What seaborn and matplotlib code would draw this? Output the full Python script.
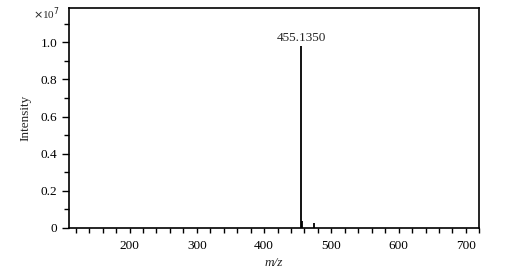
import numpy as np
import matplotlib
matplotlib.use("Agg")
import matplotlib.pyplot as plt
import seaborn as sns
from matplotlib.ticker import MultipleLocator

# peak list (m/z, intensity)
mz = [410.0, 455.1350, 456.2, 474.3]
intensity = [0.002e7, 0.98e7, 0.037e7, 0.025e7]
peak_label = "455.1350"
ytick_vals = [0, 0.2e7, 0.4e7, 0.6e7, 0.8e7, 1.0e7]
ytick_labels = ["0", "0.2", "0.4", "0.6", "0.8", "1.0"]

sns.set_theme(style="ticks")
plt.rcParams['font.family'] = ['Liberation Serif', 'DejaVu Serif']

fig = plt.figure(figsize=(5.13, 2.75), dpi=100)
ax = fig.add_axes([0.1345, 0.171, 0.80, 0.80])

ax.vlines(mz, 0, intensity, color="black", lw=1.3)
ax.text(mz[1], intensity[1] + 0.012e7, peak_label, ha="center", va="bottom", fontsize=9.5)

ax.set_xlim(110, 720)
ax.set_ylim(0, 1.185e7)
ax.xaxis.set_major_locator(MultipleLocator(100))
ax.xaxis.set_minor_locator(MultipleLocator(20))
ax.yaxis.set_minor_locator(MultipleLocator(0.1e7))
ax.set_yticks(ytick_vals)
ax.set_yticklabels(ytick_labels)
ax.tick_params(which="both", direction="out", width=1, labelsize=9.5, colors="black")
ax.tick_params(axis="y", which="major", length=4.8)
ax.tick_params(axis="y", which="minor", length=3.6)
ax.tick_params(axis="x", which="both", length=3.6, pad=5)
for s in ax.spines.values():
    s.set_linewidth(1.2)
    s.set_color("black")

ax.set_xlabel("m/z", fontsize=9.5, style="italic", labelpad=4)
ax.set_ylabel("Intensity", fontsize=9.5, labelpad=7)
fig.text(0.064, 0.932, r"$\times$10$^7$", fontsize=8)

fig.savefig("out.png", dpi=100)
